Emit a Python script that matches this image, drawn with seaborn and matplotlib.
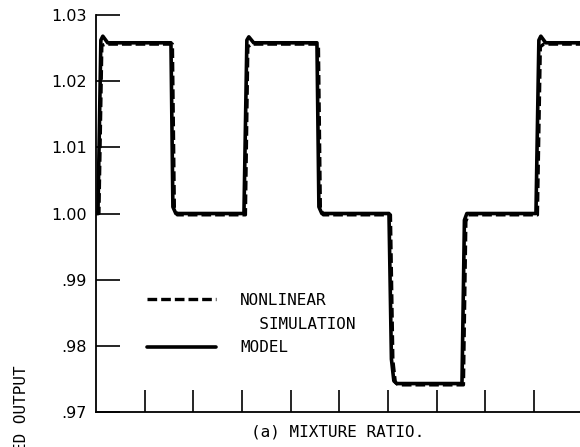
import matplotlib
matplotlib.use("Agg")
import matplotlib.pyplot as plt
import seaborn as sns
from matplotlib.lines import Line2D

# Model response: breakpoints (time, normalized output)
model_t = [0.00, 0.04, 0.10, 0.14, 0.24, 1.54, 1.58, 1.64, 3.04, 3.10, 3.14, 3.24,
           4.54, 4.58, 4.64, 6.02, 6.07, 6.12, 6.18, 7.52, 7.57, 7.62, 9.04, 9.10,
           9.14, 9.24, 9.95]
model_y = [1.0000, 1.0000, 1.0262, 1.0268, 1.0258, 1.0258, 1.0010, 1.0000, 1.0000,
           1.0262, 1.0267, 1.0258, 1.0258, 1.0010, 1.0000, 1.0000, 0.9780, 0.9747,
           0.9743, 0.9743, 0.9990, 1.0000, 1.0000, 1.0262, 1.0268, 1.0258, 1.0258]

# Nonlinear simulation: breakpoints (time, normalized output)
sim_t = [0.00, 0.06, 0.12, 0.20, 1.57, 1.61, 1.67, 3.07, 3.12, 3.20, 4.57, 4.61,
         4.67, 6.05, 6.10, 6.15, 6.21, 7.55, 7.60, 7.65, 9.07, 9.13, 9.20, 9.95]
sim_y = [1.0000, 1.0000, 1.0254, 1.0256, 1.0256, 1.0008, 0.9998, 0.9998, 1.0252,
         1.0256, 1.0256, 1.0008, 0.9998, 0.9998, 0.9778, 0.9745, 0.9741, 0.9741,
         0.9988, 0.9998, 0.9998, 1.0252, 1.0256, 1.0256]

y_ticks = [0.97, 0.98, 0.99, 1.00, 1.01, 1.02, 1.03]
y_tick_labels = [".97", ".98", ".99", "1.00", "1.01", "1.02", "1.03"]
x_ticks = [1, 2, 3, 4, 5, 6, 7, 8, 9]

sns.set_theme(style="ticks")
plt.rcParams["font.family"] = ["DejaVu Sans"]
mono = "DejaVu Sans Mono"

fig = plt.figure(figsize=(5.8, 4.47), dpi=100)
ax = fig.add_axes([96 / 580, 35 / 447, 484 / 580, 397 / 447])

sns.lineplot(x=model_t, y=model_y, ax=ax, color="black", linewidth=2.6,
             estimator=None, sort=False, solid_capstyle="butt")
sns.lineplot(x=sim_t, y=sim_y, ax=ax, color="black", linewidth=2.4,
             estimator=None, sort=False, linestyle=(0, (2.9, 1.2)))

ax.set_xlim(0, 9.945)
ax.set_ylim(0.97, 1.03)
ax.set_yticks(y_ticks)
ax.set_yticklabels(y_tick_labels)
ax.set_xticks(x_ticks)
ax.tick_params(axis="x", direction="in", length=16, width=1.2, labelbottom=False,
               color="black")
ax.tick_params(axis="y", direction="in", length=17, width=1.2, pad=6.5,
               labelsize=11.5, color="black", labelcolor="black")

sns.despine(ax=ax, top=True, right=True)
for side in ("left", "bottom"):
    ax.spines[side].set_linewidth(1.3)
    ax.spines[side].set_color("black")

ax.set_xlabel("(a) MIXTURE RATIO.", fontfamily=mono, fontsize=11.5,
              color="black", labelpad=9)
ax.set_ylabel("NORMALIZED OUTPUT", fontfamily=mono, fontsize=11.5,
              color="black", va="center")
ax.yaxis.set_label_coords(-0.153, -0.089)

handles = [
    Line2D([], [], color="black", linewidth=2.4, linestyle=(0, (2.9, 1.2))),
    Line2D([], [], color="none"),
    Line2D([], [], color="black", linewidth=2.6),
]
labels = ["NONLINEAR", "  SIMULATION", "MODEL"]
leg = ax.legend(handles, labels, loc="upper left", bbox_to_anchor=(0.105, 0.30),
                frameon=False, borderpad=0, borderaxespad=0,
                handlelength=4.3, handletextpad=1.55, labelspacing=0.54,
                prop={"family": mono, "size": 11.5})
for txt in leg.get_texts():
    txt.set_color("black")

fig.savefig("out.png", dpi=100)
